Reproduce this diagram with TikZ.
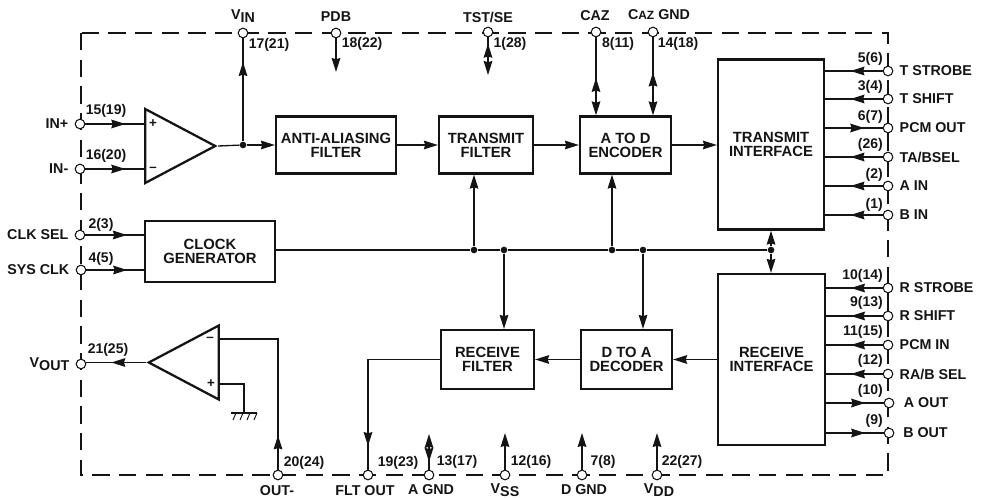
\documentclass[tikz,border=0pt]{standalone}
\usepackage{fontspec}
\setmainfont{Liberation Sans}
\usepackage{xcolor}
\usepackage{tikz}
\usetikzlibrary{arrows.meta,positioning,shapes.geometric,decorations.markings}
\definecolor{ink}{HTML}{141414}
\newcommand{\vpin}[1]{\raisebox{2.5pt}{V}#1}
\tikzset{
    every picture/.style={line cap=butt,line join=miter},
    fblock/.style={draw=ink,fill=white,line width=1.7pt,inner sep=0pt,
      font=\bfseries\fontsize{11.1}{10.5}\selectfont,text=ink,align=center},
    amp/.style={draw=ink,fill=white,line width=1.7pt,inner sep=0pt,
      isosceles triangle,isosceles triangle stretches,
      minimum width=55.5pt,minimum height=52.5pt},
    pinhole/.style={circle,draw=ink,fill=white,line width=0.8pt,minimum size=7.2pt,inner sep=0pt},
    junction/.style={circle,fill=ink,minimum size=5pt,inner sep=0pt},
    wire/.style={draw=ink,line width=1pt},
    flowtip/.style={-{Stealth[length=10.5pt,width=6.5pt,inset=1pt]},wire},
    endtip/.style={{Stealth[length=10.5pt,width=6.5pt,inset=1pt]}-,wire},
    midtip/.style={wire,postaction={decorate},decoration={markings,
      mark=at position #1 with {\arrow{Stealth[length=10.5pt,width=6.5pt,inset=1pt]}}}},
    pinlabel/.style={inner sep=0pt,text=ink,font=\bfseries\fontsize{10.7}{12}\selectfont},
    pinnum/.style={inner sep=0pt,text=ink,font=\bfseries\fontsize{10.5}{12}\selectfont},
    signlabel/.style={inner sep=0pt,text=ink,font=\bfseries\fontsize{10}{12}\selectfont},
    frameline/.style={draw=ink,line width=1.2pt,dash pattern=on 13pt off 7pt}
}
\begin{document}
\begin{tikzpicture}[x=0.75pt,y=-0.75pt,node distance=4.6pt]
    \useasboundingbox (0,0) rectangle (981,498);
    \draw[frameline] (81,33) rectangle (888,475);

    % blocks
    \node[fblock,minimum width=90pt,minimum height=42.75pt] (aafilter) at (336,145) {ANTI-ALIASING\\FILTER};
    \node[fblock,minimum width=70.5pt,minimum height=42.75pt] (txfilter) at (486,145) {TRANSMIT\\FILTER};
    \node[fblock,minimum width=68.25pt,minimum height=42.75pt] (atod) at (625.5,145) {A TO D\\ENCODER};
    \node[fblock,minimum width=79.5pt,minimum height=127.5pt] (txif) at (771,144.5) {TRANSMIT\\INTERFACE};
    \node[fblock,minimum width=97.5pt,minimum height=45.75pt] (clockgen) at (210,251.5) {CLOCK\\GENERATOR};
    \node[fblock,minimum width=80pt,minimum height=128.25pt] (rxif) at (771.5,359.5) {RECEIVE\\INTERFACE};
    \node[fblock,minimum width=68.25pt,minimum height=44.25pt] (dtoa) at (626.5,359.5) {D TO A\\DECODER};
    \node[fblock,minimum width=69.75pt,minimum height=44.25pt] (rxfilter) at (487.5,359.5) {RECEIVE\\FILTER};
    \node[amp] (txamp) at (167.5,146) {};
    \node[amp,shape border rotate=180] (rxamp) at (196.5,362.5) {};

    % pins on the top edge
    \node[pinhole] (vin) at (243,33) {};
    \node[pinhole] (pdb) at (336,33) {};
    \node[pinhole] (tstse) at (488,32) {};
    \node[pinhole] (caz) at (596,32) {};
    \node[pinhole] (cazgnd) at (653,32) {};
    \node[pinlabel] (vinlbl) at (243,16) {\vpin{IN}};
    \node[pinlabel] (pdblbl) at (336,17) {PDB};
    \node[pinlabel] (tstselbl) at (488,17) {TST/SE};
    \node[pinlabel] (cazlbl) at (595,16) {CAZ};
    \node[pinlabel] (cazgndlbl) at (659,15) {C{\fontsize{9}{12}\selectfont AZ} GND};
    \node[pinnum] (vinnum) at (269,45) {17(21)};
    \node[pinnum] (pdbnum) at (362,44) {18(22)};
    \node[pinnum] (tstsenum) at (510,44) {1(28)};
    \node[pinnum] (caznum) at (618,44) {8(11)};
    \node[pinnum] (cazgndnum) at (678,44) {14(18)};

    % pins on the left edge
    \node[pinhole] (inplus) at (80,124) {};
    \node[pinhole] (inminus) at (80,169) {};
    \node[pinhole] (clksel) at (80,235) {};
    \node[pinhole] (sysclk) at (81,270) {};
    \node[pinhole] (vout) at (81,364) {};
    \node[pinlabel,left=of inplus] (inpluslbl) {IN+};
    \node[pinlabel,left=of inminus] (inminuslbl) {IN-};
    \node[pinlabel,left=of clksel] (clksellbl) {CLK SEL};
    \node[pinlabel,left=of sysclk] (sysclklbl) {SYS CLK};
    \node[pinlabel,left=of vout] (voutlbl) {\vpin{OUT}};
    \node[pinnum] (inplusnum) at (106,111) {15(19)};
    \node[pinnum] (inminusnum) at (106,156) {16(20)};
    \node[pinnum] (clkselnum) at (101,225) {2(3)};
    \node[pinnum] (sysclknum) at (101,259) {4(5)};
    \node[pinnum] (voutnum) at (108,350) {21(25)};

    % pins on the bottom edge
    \node[pinhole] (outminus) at (278,475) {};
    \node[pinhole] (fltout) at (368,475) {};
    \node[pinhole] (agnd) at (429,475) {};
    \node[pinhole] (vss) at (505,475) {};
    \node[pinhole] (dgnd) at (582,475) {};
    \node[pinhole] (vdd) at (657,475) {};
    \node[pinlabel] (outminuslbl) at (277,491) {OUT-};
    \node[pinlabel] (fltoutlbl) at (365,491) {FLT OUT};
    \node[pinlabel] (agndlbl) at (431,490) {A GND};
    \node[pinlabel] (vsslbl) at (505,490) {\vpin{SS}};
    \node[pinlabel] (dgndlbl) at (584,490) {D GND};
    \node[pinlabel] (vddlbl) at (659,490) {\vpin{DD}};
    \node[pinnum] (outminusnum) at (304,463) {20(24)};
    \node[pinnum] (fltoutnum) at (398,463) {19(23)};
    \node[pinnum] (agndnum) at (457,462) {13(17)};
    \node[pinnum] (vssnum) at (531,462) {12(16)};
    \node[pinnum] (dgndnum) at (603,462) {7(8)};
    \node[pinnum] (vddnum) at (682,462) {22(27)};

    % pins on the right edge
    \node[pinhole] (tstrobe) at (888,71) {};
    \node[pinhole] (tshift) at (888,99) {};
    \node[pinhole] (pcmout) at (888,128) {};
    \node[pinhole] (tabsel) at (888,157) {};
    \node[pinhole] (ain) at (888,186) {};
    \node[pinhole] (bin) at (888,215) {};
    \node[pinhole] (rstrobe) at (888,288) {};
    \node[pinhole] (rshift) at (888,316) {};
    \node[pinhole] (pcmin) at (888,345) {};
    \node[pinhole] (rabsel) at (888,374) {};
    \node[pinhole] (aout) at (889,403) {};
    \node[pinhole] (bout) at (889,433) {};
    \node[pinlabel,right=of tstrobe] (tstrobelbl) {T STROBE};
    \node[pinlabel,right=of tshift] (tshiftlbl) {T SHIFT};
    \node[pinlabel,right=of pcmout] (pcmoutlbl) {PCM OUT};
    \node[pinlabel,right=of tabsel] (tabsellbl) {TA/BSEL};
    \node[pinlabel,right=of ain] (ainlbl) {A IN};
    \node[pinlabel,right=of bin] (binlbl) {B IN};
    \node[pinlabel,right=of rstrobe] (rstrobelbl) {R STROBE};
    \node[pinlabel,right=of rshift] (rshiftlbl) {R SHIFT};
    \node[pinlabel,right=of pcmin] (pcminlbl) {PCM IN};
    \node[pinlabel,right=of rabsel] (rabsellbl) {RA/B SEL};
    \node[pinlabel,right=7pt of aout] (aoutlbl) {A OUT};
    \node[pinlabel,right=6.5pt of bout] (boutlbl) {B OUT};
    \node[pinnum,anchor=east] (tstrobenum) at (883,59) {5(6)};
    \node[pinnum,anchor=east] (tshiftnum) at (883,87) {3(4)};
    \node[pinnum,anchor=east] (pcmoutnum) at (883,117) {6(7)};
    \node[pinnum,anchor=east] (tabselnum) at (883,145) {(26)};
    \node[pinnum,anchor=east] (ainnum) at (883,175) {(2)};
    \node[pinnum,anchor=east] (binnum) at (883,205) {(1)};
    \node[pinnum,anchor=east] (rstrobenum) at (883,276) {10(14)};
    \node[pinnum,anchor=east] (rshiftnum) at (883,303) {9(13)};
    \node[pinnum,anchor=east] (pcminnum) at (883,332) {11(15)};
    \node[pinnum,anchor=east] (rabselnum) at (883,361) {(12)};
    \node[pinnum,anchor=east] (aoutnum) at (883,391) {(10)};
    \node[pinnum,anchor=east] (boutnum) at (883,421) {(9)};

    % junctions and free ends
    \node[junction] (ampdot) at (243,145) {};
    \node[junction] (txfdot) at (474,250) {};
    \node[junction] (rxfdot) at (504,250) {};
    \node[junction] (adcdot) at (612,250) {};
    \node[junction] (dacdot) at (643,250) {};
    \node[junction] (ifdot) at (771,250) {};
    \coordinate (pdbend) at (336,72);
    \coordinate (tstend) at (488,75);
    \coordinate (agndend) at (429,434);
    \coordinate (vssend) at (505,433);
    \coordinate (dgndend) at (582,433);
    \coordinate (vddend) at (657,433);
    \coordinate (txampp) at (145,124);
    \coordinate (txampm) at (145,169);
    \coordinate (rxampm) at (218,339);
    \coordinate (rxampp) at (218,384);
    \coordinate (earth) at (244,413);

    % signal flow
    \draw[midtip=0.67] (inplus) -- (txampp);
    \draw[midtip=0.67] (inminus) -- (txampm);
    \draw[wire] (txamp.apex) -- (ampdot);
    \draw[flowtip] (ampdot) -- (aafilter);
    \draw[midtip=0.77] (ampdot) -- (vin);
    \draw[flowtip] (aafilter) -- (txfilter);
    \draw[flowtip] (txfilter) -- (atod);
    \draw[flowtip] (atod) -- (atod -| txif.west);
    \draw[flowtip] (rxif.west |- dtoa) -- (dtoa);
    \draw[flowtip] (dtoa) -- (rxfilter);
    \draw[midtip=0.87] (rxfilter) -| (fltout);
    \draw[midtip=0.71] (clksel) -- (clksel -| clockgen.west);
    \draw[midtip=0.71] (sysclk) -- (sysclk -| clockgen.west);
    \draw[midtip=0.58] (rxamp.apex) -- (rxamp.apex -| vout.east);

    % clock bus
    \draw[wire] (clockgen.east |- txfdot) -- (txfdot);
    \draw[wire] (txfdot) -- (rxfdot);
    \draw[wire] (rxfdot) -- (adcdot);
    \draw[wire] (adcdot) -- (dacdot);
    \draw[wire] (dacdot) -- (ifdot);
    \draw[flowtip] (txfdot) -- (txfdot |- txfilter.south);
    \draw[flowtip] (adcdot) -- (adcdot |- atod.south);
    \draw[flowtip] (rxfdot) -- (rxfdot |- rxfilter.north);
    \draw[flowtip] (dacdot) -- (dacdot |- dtoa.north);
    \draw[flowtip] (ifdot) -- (ifdot |- txif.south);
    \draw[flowtip] (ifdot) -- (ifdot |- rxif.north);

    % stubs on the top and bottom edge
    \draw[flowtip] (pdb) -- (pdbend);
    \draw[endtip,midtip=0.83] (tstend) -- (tstse);
    \draw[endtip,midtip=0.48] (caz |- atod.north) -- (caz);
    \draw[endtip,midtip=0.55] (cazgnd |- atod.north) -- (cazgnd);
    \draw[endtip,midtip=0.78] (agndend) -- (agnd);
    \draw[flowtip] (vss) -- (vssend);
    \draw[flowtip] (dgnd) -- (dgndend);
    \draw[flowtip] (vdd) -- (vddend);

    % interface lines
    \draw[midtip=0.56] (tstrobe) -- (tstrobe -| txif.east);
    \draw[midtip=0.56] (tshift) -- (tshift -| txif.east);
    \draw[midtip=0.68] (pcmout -| txif.east) -- (pcmout);
    \draw[midtip=0.56] (tabsel) -- (tabsel -| txif.east);
    \draw[midtip=0.56] (ain) -- (ain -| txif.east);
    \draw[midtip=0.56] (bin) -- (bin -| txif.east);
    \draw[midtip=0.56] (rstrobe) -- (rstrobe -| rxif.east);
    \draw[midtip=0.56] (rshift) -- (rshift -| rxif.east);
    \draw[midtip=0.56] (pcmin) -- (pcmin -| rxif.east);
    \draw[midtip=0.56] (rabsel) -- (rabsel -| rxif.east);
    \draw[midtip=0.68] (aout -| rxif.east) -- (aout);
    \draw[midtip=0.68] (bout -| rxif.east) -- (bout);

    % output amplifier feedback and earth
    \draw[midtip=0.18] (outminus) |- (rxampm);
    \draw[wire] (rxampp) -| (earth);
    \draw[wire] (231,413) -- (257,413);
    \foreach \hx in {236,243,250,257}
      \draw[draw=ink,line width=0.7pt] (\hx,413) -- (\hx-3,420);

    % amplifier signs
    \node[signlabel] (txplus) at (153,124) {+};
    \node[signlabel] (txminus) at (153,169) {--};
    \node[signlabel] (rxminus) at (210,339) {--};
    \node[signlabel] (rxplus) at (211,384) {+};
\end{tikzpicture}
\end{document}
